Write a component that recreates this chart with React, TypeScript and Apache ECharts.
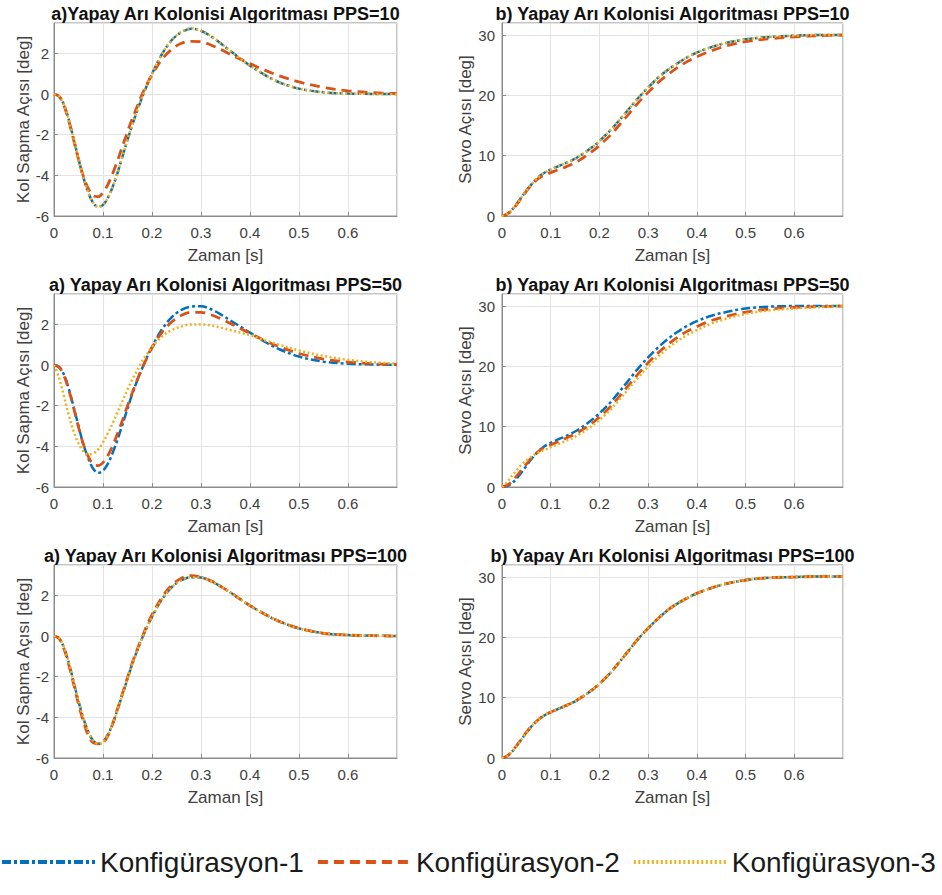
import React, { useEffect, useRef } from "react";
import * as echarts from "echarts";

// time samples [s]
const T = [0, 0.01, 0.02, 0.03, 0.04, 0.05, 0.06, 0.07, 0.08, 0.09, 0.1, 0.11, 0.12, 0.13, 0.14, 0.15, 0.16, 0.17, 0.18, 0.19, 0.2, 0.22, 0.24, 0.26, 0.28, 0.3, 0.32, 0.34, 0.36, 0.38, 0.4, 0.43, 0.46, 0.5, 0.55, 0.6, 0.65, 0.7];

const SERIES_NAMES = ["Konfigürasyon-1", "Konfigürasyon-2", "Konfigürasyon-3"];
const X_TICKS = [0, 0.1, 0.2, 0.3, 0.4, 0.5, 0.6];
const KOL_TICKS = [-6, -4, -2, 0, 2];
const SERVO_TICKS = [0, 10, 20, 30];

// PPS=10 — Kol Sapma Açısı [deg]
const KOL10_C1 = [0, -0.1, -0.5, -1.25, -2.2, -3.2, -4.1, -4.85, -5.35, -5.55, -5.45, -5.1, -4.55, -3.85, -3.05, -2.25, -1.5, -0.8, -0.15, 0.45, 1.0, 1.95, 2.65, 3.05, 3.22, 3.12, 2.85, 2.5, 2.12, 1.75, 1.4, 0.95, 0.58, 0.27, 0.09, 0.03, 0.01, 0];
const KOL10_C2 = [0, -0.1, -0.55, -1.3, -2.25, -3.2, -4.05, -4.65, -5.0, -5.05, -4.85, -4.45, -3.9, -3.25, -2.55, -1.85, -1.2, -0.6, 0.0, 0.5, 0.95, 1.7, 2.2, 2.5, 2.6, 2.58, 2.42, 2.2, 1.95, 1.72, 1.5, 1.18, 0.9, 0.6, 0.33, 0.16, 0.07, 0.03];
const KOL10_C3 = [0, -0.1, -0.5, -1.25, -2.2, -3.2, -4.1, -4.85, -5.35, -5.55, -5.45, -5.1, -4.55, -3.85, -3.05, -2.25, -1.5, -0.8, -0.15, 0.45, 1.0, 1.95, 2.65, 3.06, 3.24, 3.13, 2.86, 2.5, 2.12, 1.75, 1.4, 0.95, 0.58, 0.27, 0.09, 0.03, 0.01, 0];

// PPS=10 — Servo Açısı [deg]
const SERVO10_C1 = [0, 0.3, 1.0, 2.0, 3.1, 4.2, 5.2, 6.1, 6.8, 7.3, 7.7, 8.05, 8.4, 8.75, 9.1, 9.5, 10.0, 10.5, 11.1, 11.7, 12.4, 14.0, 15.8, 17.7, 19.6, 21.3, 22.9, 24.2, 25.3, 26.3, 27.1, 28.0, 28.7, 29.3, 29.7, 29.9, 30.0, 30.0];
const SERVO10_C2 = [0, 0.3, 0.9, 1.9, 3.0, 4.1, 5.1, 5.9, 6.5, 6.9, 7.2, 7.5, 7.8, 8.1, 8.45, 8.85, 9.3, 9.85, 10.4, 11.0, 11.7, 13.2, 15.0, 16.9, 18.8, 20.5, 22.1, 23.4, 24.6, 25.6, 26.4, 27.4, 28.2, 28.9, 29.4, 29.7, 29.9, 30.0];
const SERVO10_C3 = [0, 0.3, 1.0, 2.0, 3.1, 4.2, 5.2, 6.1, 6.8, 7.3, 7.7, 8.05, 8.4, 8.75, 9.1, 9.5, 10.0, 10.5, 11.1, 11.7, 12.4, 14.0, 15.8, 17.7, 19.6, 21.3, 22.9, 24.2, 25.3, 26.3, 27.1, 28.0, 28.7, 29.3, 29.7, 29.9, 30.0, 30.0];

// PPS=50 — Kol Sapma Açısı [deg]
const KOL50_C1 = [0, -0.08, -0.45, -1.15, -2.05, -3.0, -3.9, -4.6, -5.1, -5.3, -5.2, -4.85, -4.3, -3.65, -2.9, -2.15, -1.4, -0.75, -0.15, 0.4, 0.9, 1.75, 2.35, 2.72, 2.88, 2.9, 2.75, 2.5, 2.2, 1.9, 1.6, 1.15, 0.78, 0.42, 0.17, 0.07, 0.03, 0.01];
const KOL50_C2 = [0, -0.1, -0.5, -1.2, -2.1, -3.05, -3.9, -4.5, -4.88, -4.95, -4.8, -4.45, -3.95, -3.35, -2.7, -2.0, -1.35, -0.72, -0.15, 0.38, 0.85, 1.6, 2.12, 2.45, 2.6, 2.6, 2.48, 2.28, 2.05, 1.8, 1.57, 1.2, 0.9, 0.57, 0.3, 0.15, 0.07, 0.03];
const KOL50_C3 = [0, -0.6, -1.5, -2.45, -3.25, -3.85, -4.25, -4.4, -4.35, -4.15, -3.8, -3.35, -2.85, -2.3, -1.75, -1.2, -0.7, -0.25, 0.2, 0.55, 0.9, 1.4, 1.72, 1.9, 2.0, 2.0, 1.95, 1.85, 1.72, 1.6, 1.48, 1.22, 1.0, 0.72, 0.45, 0.26, 0.14, 0.07];

// PPS=50 — Servo Açısı [deg]
const SERVO50_C1 = [0, 0.15, 0.6, 1.4, 2.4, 3.5, 4.6, 5.5, 6.3, 6.9, 7.3, 7.7, 8.05, 8.4, 8.8, 9.2, 9.7, 10.25, 10.85, 11.5, 12.2, 13.8, 15.7, 17.7, 19.7, 21.5, 23.1, 24.5, 25.7, 26.7, 27.5, 28.4, 29.0, 29.6, 29.9, 30.0, 30.0, 30.0];
const SERVO50_C2 = [0, 0.3, 0.9, 1.8, 2.8, 3.8, 4.8, 5.6, 6.2, 6.7, 7.0, 7.35, 7.7, 8.05, 8.4, 8.8, 9.25, 9.75, 10.3, 10.9, 11.6, 13.1, 14.9, 16.9, 18.8, 20.6, 22.2, 23.6, 24.8, 25.8, 26.6, 27.6, 28.3, 29.0, 29.5, 29.8, 29.9, 30.0];
const SERVO50_C3 = [0, 0.8, 1.8, 2.8, 3.7, 4.4, 5.0, 5.5, 5.9, 6.25, 6.6, 6.9, 7.25, 7.6, 7.95, 8.35, 8.8, 9.3, 9.85, 10.45, 11.1, 12.6, 14.4, 16.3, 18.2, 20.0, 21.6, 23.0, 24.2, 25.2, 26.0, 27.1, 27.9, 28.7, 29.3, 29.6, 29.8, 30.0];

// PPS=100 — Kol Sapma Açısı [deg]
const KOL100_C1 = [0, -0.1, -0.55, -1.3, -2.25, -3.2, -4.05, -4.7, -5.15, -5.3, -5.2, -4.85, -4.3, -3.6, -2.85, -2.1, -1.35, -0.7, -0.1, 0.45, 0.95, 1.8, 2.4, 2.75, 2.9, 2.88, 2.7, 2.45, 2.15, 1.82, 1.5, 1.08, 0.72, 0.38, 0.14, 0.05, 0.02, 0];
const KOL100_C2 = [0, -0.1, -0.6, -1.4, -2.35, -3.35, -4.2, -4.9, -5.25, -5.3, -5.25, -4.9, -4.3, -3.55, -2.8, -2.05, -1.3, -0.65, -0.05, 0.55, 1.05, 1.9, 2.5, 2.85, 2.98, 2.9, 2.72, 2.45, 2.15, 1.82, 1.5, 1.08, 0.72, 0.38, 0.14, 0.05, 0.02, 0];
const KOL100_C3 = [0, -0.1, -0.55, -1.3, -2.25, -3.2, -4.05, -4.7, -5.15, -5.3, -5.2, -4.85, -4.3, -3.6, -2.85, -2.1, -1.35, -0.7, -0.1, 0.45, 0.95, 1.8, 2.4, 2.75, 2.9, 2.88, 2.7, 2.45, 2.15, 1.82, 1.5, 1.08, 0.72, 0.38, 0.14, 0.05, 0.02, 0];

// PPS=100 — Servo Açısı [deg]
const SERVO100_C1 = [0, 0.3, 1.0, 2.0, 3.1, 4.2, 5.2, 6.0, 6.7, 7.2, 7.6, 7.95, 8.3, 8.65, 9.0, 9.4, 9.9, 10.4, 11.0, 11.6, 12.3, 13.9, 15.8, 17.8, 19.8, 21.5, 23.1, 24.5, 25.6, 26.5, 27.3, 28.2, 28.9, 29.5, 29.9, 30.0, 30.1, 30.1];
const SERVO100_C2 = [0, 0.3, 1.05, 2.05, 3.15, 4.25, 5.25, 6.05, 6.7, 7.2, 7.6, 7.95, 8.3, 8.65, 9.0, 9.4, 9.9, 10.4, 11.0, 11.6, 12.3, 13.9, 15.8, 17.8, 19.8, 21.5, 23.1, 24.5, 25.6, 26.5, 27.3, 28.2, 28.9, 29.5, 29.9, 30.0, 30.1, 30.1];
const SERVO100_C3 = [0, 0.3, 1.0, 2.0, 3.1, 4.2, 5.2, 6.0, 6.7, 7.2, 7.6, 7.95, 8.3, 8.65, 9.0, 9.4, 9.9, 10.4, 11.0, 11.6, 12.3, 13.9, 15.8, 17.8, 19.8, 21.5, 23.1, 24.5, 25.6, 26.5, 27.3, 28.2, 28.9, 29.5, 29.9, 30.0, 30.1, 30.1];

const TITLES = [
  "a)Yapay Arı Kolonisi Algoritması PPS=10",
  "b) Yapay Arı Kolonisi Algoritması PPS=10",
  "a) Yapay Arı Kolonisi Algoritması PPS=50",
  "b) Yapay Arı Kolonisi Algoritması PPS=50",
  "a) Yapay Arı Kolonisi Algoritması PPS=100",
  "b) Yapay Arı Kolonisi Algoritması PPS=100",
];
const X_NAME = "Zaman [s]";
const KOL_NAME = "Kol Sapma Açısı [deg]";
const SERVO_NAME = "Servo Açısı [deg]";

const FONT = "'Liberation Sans', Arial, Helvetica, sans-serif";
const COLORS = ["#0072BD", "#D95319", "#EDB120"];
const LINE_TYPES: any[] = [[9, 3, 3, 3], [10, 6], [2, 2.5]];
const LINE_WIDTHS = [2.5, 2.8, 2.5];

export default function App() {
  const ref = useRef<HTMLDivElement>(null);
  useEffect(() => {
    if (!ref.current) return;
    const chart = echarts.init(ref.current, undefined, { renderer: "svg" });

    const panels = [
      { kind: "kol", data: [KOL10_C1, KOL10_C2, KOL10_C3] },
      { kind: "servo", data: [SERVO10_C1, SERVO10_C2, SERVO10_C3] },
      { kind: "kol", data: [KOL50_C1, KOL50_C2, KOL50_C3] },
      { kind: "servo", data: [SERVO50_C1, SERVO50_C2, SERVO50_C3] },
      { kind: "kol", data: [KOL100_C1, KOL100_C2, KOL100_C3] },
      { kind: "servo", data: [SERVO100_C1, SERVO100_C2, SERVO100_C3] },
    ];
    const rowTops = [23, 294, 565];
    const colLefts = [54, 502];
    const colWidths = [343, 341];
    const plotH = 193;

    const grids: any[] = [];
    const xAxes: any[] = [];
    const yAxes: any[] = [];
    const series: any[] = [];
    const graphics: any[] = [];

    panels.forEach((p, i) => {
      const row = Math.floor(i / 2);
      const col = i % 2;
      const left = colLefts[col];
      const top = rowTops[row];
      const width = colWidths[col];
      grids.push({
        left, top, width, height: plotH,
        show: true, borderColor: "#8c8c8c", borderWidth: 1, backgroundColor: "transparent",
        containLabel: false,
      });
      const axisLine = { show: true, onZero: false, lineStyle: { color: "#8c8c8c", width: 1 } };
      const axisTick = { show: true, inside: true, length: 4, lineStyle: { color: "#8c8c8c" } };
      const splitLine = { show: true, lineStyle: { color: "#e3e3e3", width: 1 } };
      xAxes.push({
        type: "value", gridIndex: i, min: 0, max: 0.7, interval: 0.1,
        axisLine, axisTick, splitLine,
        axisLabel: {
          showMaxLabel: false, color: "#404040", fontSize: 15, fontFamily: FONT, margin: 9,
          formatter: (v: number) => (X_TICKS.some((t) => Math.abs(t - v) < 1e-6) ? String(Math.round(v * 10) / 10) : ""),
        },
        name: X_NAME, nameLocation: "middle", nameGap: 31,
        nameTextStyle: { color: "#404040", fontSize: 17, fontFamily: FONT },
      });
      const isKol = p.kind === "kol";
      const ticks = isKol ? KOL_TICKS : SERVO_TICKS;
      yAxes.push({
        type: "value", gridIndex: i,
        min: isKol ? -6 : 0, max: isKol ? 3.5 : 32, interval: isKol ? 2 : 10,
        axisLine, axisTick, splitLine,
        axisLabel: {
          showMaxLabel: false, color: "#404040", fontSize: 15, fontFamily: FONT, margin: isKol ? 5 : 7,
          formatter: (v: number) => (ticks.some((t) => Math.abs(t - v) < 1e-6) ? String(Math.round(v)) : ""),
        },
        name: isKol ? KOL_NAME : SERVO_NAME, nameLocation: "middle", nameGap: isKol ? 21 : 17, nameRotate: 90,
        nameTextStyle: { color: "#404040", fontSize: 17, fontFamily: FONT },
      });
      p.data.forEach((vals, k) => {
        series.push({
          name: SERIES_NAMES[k], type: "line", xAxisIndex: i, yAxisIndex: i,
          data: T.map((t, j) => [t, vals[j]]),
          showSymbol: false, symbol: "none", smooth: 0.35,
          lineStyle: { color: COLORS[k], width: LINE_WIDTHS[k], type: LINE_TYPES[k] },
          itemStyle: { color: COLORS[k] },
          z: 2 + k,
        });
      });
      graphics.push({
        type: "text",
        x: left + width / 2, y: top - 9,
        style: {
          text: TITLES[i], fill: "#111", font: `bold 18px ${FONT}`,
          textAlign: "center", textVerticalAlign: "middle", align: "center", verticalAlign: "middle",
        },
      });
    });

    chart.setOption({
      animation: false,
      backgroundColor: "#ffffff",
      grid: grids,
      xAxis: xAxes,
      yAxis: yAxes,
      series,
      graphic: graphics,
      legend: {
        data: SERIES_NAMES, left: 0, top: 848, padding: 0,
        itemWidth: 93, itemHeight: 22, itemGap: 12,
        itemStyle: { opacity: 0, borderWidth: 0 },
        lineStyle: { width: 4 },
        textStyle: { color: "#1a1a1a", fontSize: 28, fontFamily: FONT, padding: [0, 0, 0, 0] },
      },
    });
    return () => chart.dispose();
  }, []);
  return <div ref={ref} style={{ position: "absolute", left: 0, top: 0, width: 942, height: 895 }} />;
}
